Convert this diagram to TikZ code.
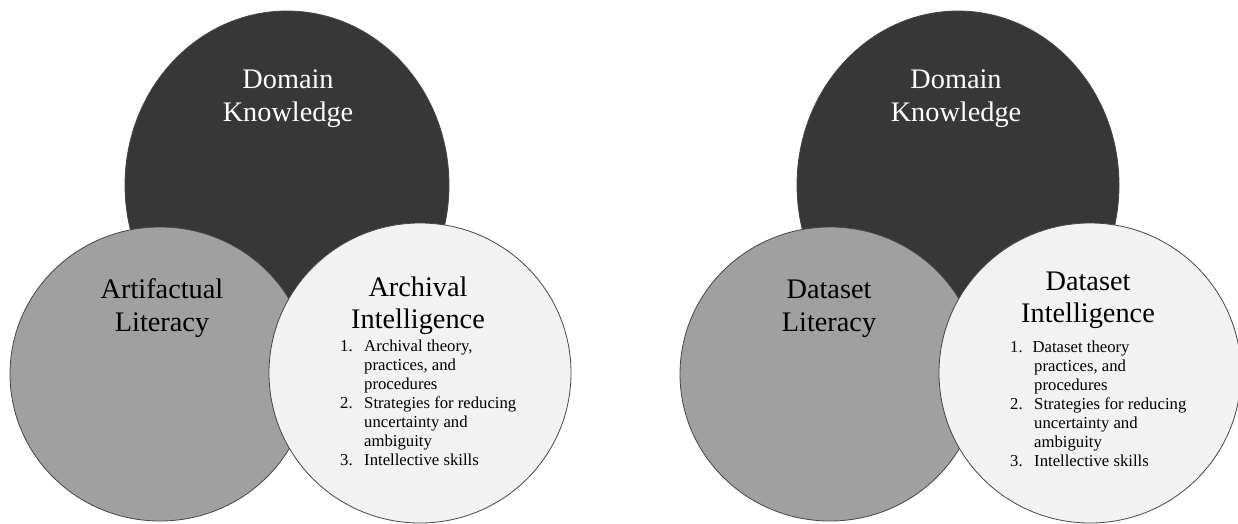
\documentclass[tikz,border=0pt]{standalone}
\usepackage{fontspec}
\setmainfont{Liberation Serif}
\definecolor{knowfill}{HTML}{373737}
\definecolor{litfill}{HTML}{A0A0A0}
\definecolor{intfill}{HTML}{F2F2F2}
\begin{document}
\begin{tikzpicture}[x=1pt,y=-1pt,
  ring/.style={draw=black!72, line width=0.8pt},
  title/.style={anchor=base, inner sep=0pt, font=\fontsize{28.3}{32.5}\selectfont},
  itemlist/.style={anchor=base west, inner sep=0pt, font=\fontsize{16.7}{19}\selectfont}]
\fill[white] (0,0) rectangle (1238,523);
\useasboundingbox (0,0) rectangle (1238,523);

% ---------- left diagram: archival ----------
\path[ring, fill=knowfill] (287,185) ellipse [x radius=162pt, y radius=174pt];
\path[ring, fill=litfill]  (160,374) ellipse [x radius=150pt, y radius=147pt];
\path[ring, fill=intfill]  (420,373) ellipse [x radius=151pt, y radius=150pt];

\node[title, text=white] (dkA1) at (288,88)  {Domain};
\node[title, text=white] (dkA2) at (288,121) {Knowledge};
\node[title] (alA1) at (162,298) {Artifactual};
\node[title] (alA2) at (162,331) {Literacy};
\node[title] (aiA1) at (418,296) {Archival};
\node[title] (aiA2) at (418,328) {Intelligence};
\node[itemlist] (aiAlist) at (340,351) {%
  \begin{tabular}[t]{@{}r@{\hspace{11.5pt}}l@{}}
  1. & Archival theory,\\
     & practices, and\\
     & procedures\\
  2. & Strategies for reducing\\
     & uncertainty and\\
     & ambiguity\\
  3. & Intellective skills
  \end{tabular}};

% ---------- right diagram: dataset ----------
\path[ring, fill=knowfill] (958,185) ellipse [x radius=161pt, y radius=174pt];
\path[ring, fill=litfill]  (830,374) ellipse [x radius=150pt, y radius=147pt];
\path[ring, fill=intfill]  (1090,373) ellipse [x radius=151pt, y radius=150pt];

\node[title, text=white] (dkB1) at (956,88)  {Domain};
\node[title, text=white] (dkB2) at (956,121) {Knowledge};
\node[title] (dlB1) at (829,298) {Dataset};
\node[title] (dlB2) at (829,331) {Literacy};
\node[title] (diB1) at (1088,290) {Dataset};
\node[title] (diB2) at (1088,322) {Intelligence};
\node[itemlist] (diBlist) at (1010,352) {%
  \begin{tabular}[t]{@{}r@{\hspace{11.5pt}}l@{}}
  1. & \hspace*{-1.6pt}Dataset theory\\
     & practices, and\\
     & procedures\\
  2. & Strategies for reducing\\
     & uncertainty and\\
     & ambiguity\\
  3. & Intellective skills
  \end{tabular}};
\end{tikzpicture}
\end{document}
